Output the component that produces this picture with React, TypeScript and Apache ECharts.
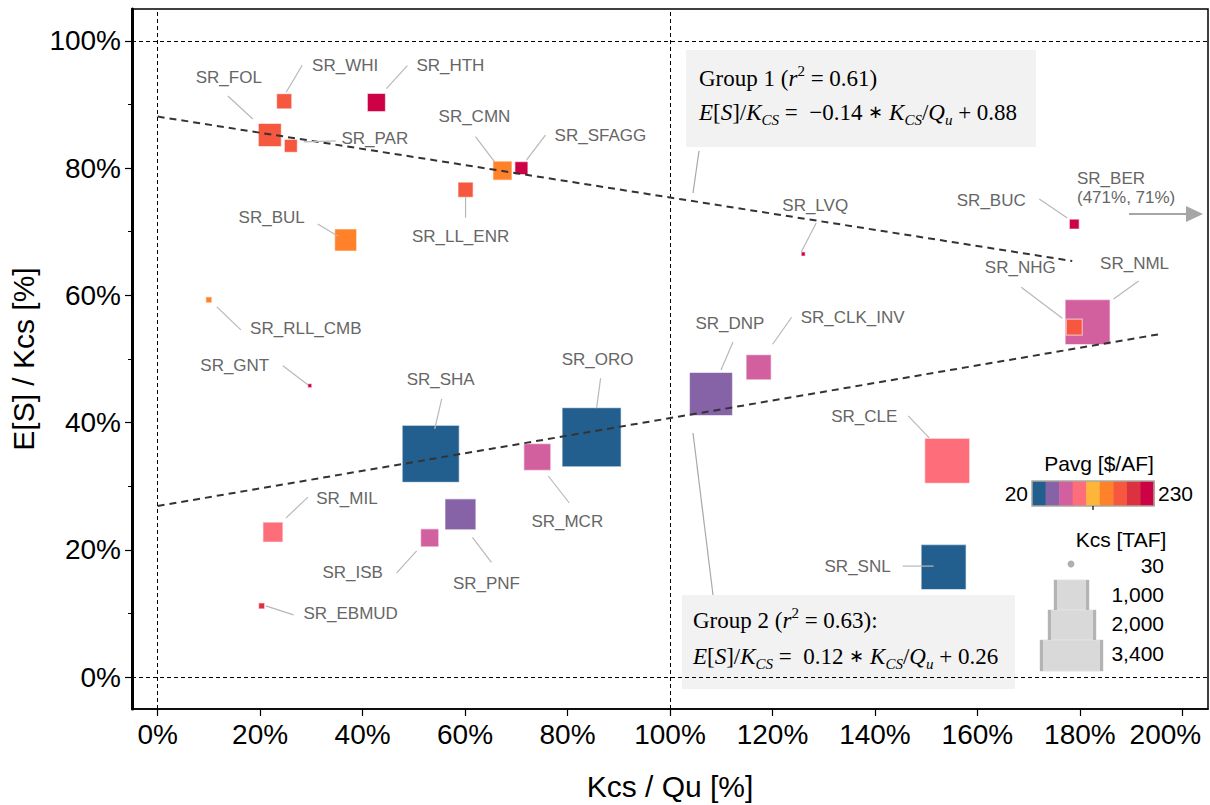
import React, { useEffect, useRef } from "react";
import * as echarts from "echarts";

// Reservoir names (draw order: large squares first so the small ones stay on top)
const reservoirs = [
  "SR_ORO", "SR_SHA", "SR_SNL", "SR_NML", "SR_CLE", "SR_DNP", "SR_PNF", "SR_MCR",
  "SR_CLK_INV", "SR_FOL", "SR_BUL", "SR_MIL", "SR_CMN", "SR_HTH", "SR_ISB", "SR_NHG",
  "SR_WHI", "SR_LL_ENR", "SR_PAR", "SR_SFAGG", "SR_BUC", "SR_RLL_CMB", "SR_EBMUD",
  "SR_GNT", "SR_LVQ",
];
// Kcs / Qu [%]
const kcsOverQu = [
  84.7, 53.3, 153.4, 181.5, 154.1, 108.0, 59.1, 74.1,
  117.3, 21.9, 36.7, 22.5, 67.3, 42.7, 53.1, 178.9,
  24.7, 60.1, 26.0, 71.0, 178.9, 10.0, 20.3,
  29.7, 126.0,
];
// E[S] / Kcs [%]
const storageRatio = [
  37.7, 35.1, 17.3, 55.8, 34.0, 44.5, 25.6, 34.6,
  48.7, 85.2, 68.7, 22.8, 79.6, 90.3, 21.9, 55.0,
  90.5, 76.6, 83.5, 80.0, 71.2, 59.3, 11.2,
  45.8, 66.5,
];
// Kcs [TAF]
const capacityTaf = [
  2880, 2690, 1670, 1670, 1670, 1530, 790, 600,
  520, 440, 400, 330, 300, 270, 270, 210,
  190, 190, 140, 140, 80, 30, 30,
  13, 13,
];
// Pavg [$/AF]
const priceAvg = [
  30, 30, 30, 80, 100, 55, 55, 80,
  80, 170, 150, 100, 150, 220, 80, 170,
  170, 170, 170, 220, 220, 150, 195,
  220, 220,
];

// Regression lines, endpoints in [Kcs/Qu %, E[S]/Kcs %]
const group1Line = [[0, 88.1], [178.5, 65.4]];
const group2Line = [[0, 26.9], [195.5, 53.9]];

const xTicks = [0, 20, 40, 60, 80, 100, 120, 140, 160, 180, 200];
const yTicks = [0, 20, 40, 60, 80, 100];
const yMinorTicks = [10, 30, 50, 70, 90];

const pavgRange = [20, 230];
const kcsLegendValues = [30, 1000, 2000, 3400];
const kcsLegendText = ["30", "1,000", "2,000", "3,400"];

const palette = [
  "#235f8e", "#8563a6", "#d25f9e", "#fe6e7a", "#ffb43a",
  "#ff822b", "#f6583f", "#dc3140", "#cd0145",
];

// Label placement: [textDx, textDy, leaderX1, leaderY1, leaderX2, leaderY2] relative to the marker centre (px)
const labelLayout: Record<string, number[]> = {
  SR_FOL: [-41, -58, -42, -39, -17, -16],
  SR_WHI: [61, -36, 18, -36, 2, -9],
  SR_HTH: [74, -37, 31, -37, 10, -14],
  SR_PAR: [84, -7, 13, -4, 45, -5],
  SR_CMN: [-28, -54, -27, -34, -8, -9],
  SR_SFAGG: [79, -33, 24, -33, 5, -8],
  SR_LL_ENR: [-5, 47, 0, 7, 0, 28],
  SR_BUL: [-74, -23, -28, -16, -8, -4],
  SR_RLL_CMB: [97, 29, 8, 7, 32, 30],
  SR_GNT: [-75, -20, -27, -20, -2, -1],
  SR_SHA: [10, -74, 11, -55, 4, -25],
  SR_MIL: [74, -34, 35, -35, 13, -14],
  SR_ISB: [-77, 35, -33, 35, -13, 13],
  SR_EBMUD: [89, 8, 4, 0, 32, 9],
  SR_PNF: [26, 69, 12, 23, 31, 48],
  SR_ORO: [6, -78, 9, -59, 5, -29],
  SR_MCR: [30, 64, 11, 19, 32, 46],
  SR_DNP: [19, -71, 22, -52, 10, -24],
  SR_CLK_INV: [94, -50, 33, -50, 14, -23],
  SR_LVQ: [12, -49, 13, -31, -2, -2],
  SR_BUC: [-83, -24, -35, -25, -7, -6],
  SR_NHG: [-54, -60, -53, -40, -12, -9],
  SR_NML: [47, -59, 51, -41, 26, -23],
  SR_CLE: [-83, -44, -39, -45, -18, -23],
  SR_SNL: [-86, -1, -41, -1, -10, -1],
};

const SANS = "'Liberation Sans', Arial, Helvetica, sans-serif";
const SERIF = "'Liberation Serif', 'Times New Roman', serif";
const sideOf = (kcs: number) => 1.1 * Math.sqrt(kcs);

const mathRich = {
  i: { fontStyle: "italic", fontFamily: SERIF, fontSize: 23 },
  sub: { fontStyle: "italic", fontFamily: SERIF, fontSize: 15, verticalAlign: "bottom", lineHeight: 15 },
  sup: { fontFamily: SERIF, fontSize: 15, verticalAlign: "top", lineHeight: 18 },
  op: { fontFamily: SERIF, fontSize: 18 },
};

function textEl(x: number, y: number, text: string, extra: any = {}) {
  const style = {
    text,
    x,
    y,
    fill: "#000",
    fontFamily: SANS,
    fontSize: 21,
    align: "center",
    textAlign: "center",
    verticalAlign: "middle",
    textVerticalAlign: "middle",
    ...extra,
  };
  return { type: "text", z: 30, style };
}

function staticGraphics() {
  const g: any[] = [];
  // Regression annotation boxes
  g.push({ type: "rect", z: 1, shape: { x: 686, y: 50, width: 350, height: 97 }, style: { fill: "#f2f2f2" } });
  g.push({ type: "rect", z: 1, shape: { x: 682, y: 595, width: 333, height: 94 }, style: { fill: "#f2f2f2" } });
  const serif = { fontFamily: SERIF, fontSize: 23, align: "left", textAlign: "left", lineHeight: 30, rich: mathRich };
  g.push(textEl(699, 78, "Group 1 ({i|r}{sup|2} = 0.61)", serif));
  g.push(textEl(699, 112, "{i|E}[{i|S}]/{i|K}{sub|CS} =  \u22120.14 {op|\u2217} {i|K}{sub|CS}/{i|Q}{sub|u} + 0.88", serif));
  g.push(textEl(693, 620, "Group 2 ({i|r}{sup|2} = 0.63):", serif));
  g.push(textEl(693, 656, "{i|E}[{i|S}]/{i|K}{sub|CS} =  0.12 {op|\u2217} {i|K}{sub|CS}/{i|Q}{sub|u} + 0.26", serif));
  g.push({ type: "line", z: 20, shape: { x1: 699, y1: 151, x2: 693, y2: 193 }, style: { stroke: "#a8a8a8", lineWidth: 1.2 } });
  g.push({ type: "line", z: 20, shape: { x1: 693, y1: 433, x2: 713, y2: 595 }, style: { stroke: "#a8a8a8", lineWidth: 1.2 } });

  // Off-scale reservoir marker
  g.push(textEl(1077, 188, "SR_BER\n(471%, 71%)", { fill: "#666", fontSize: 17, align: "left", textAlign: "left", lineHeight: 19 }));
  g.push({ type: "line", z: 20, shape: { x1: 1129, y1: 214, x2: 1188, y2: 214 }, style: { stroke: "#a6a6a6", lineWidth: 2 } });
  g.push({ type: "polygon", z: 20, shape: { points: [[1186, 206], [1203, 214], [1186, 222]] }, style: { fill: "#a6a6a6" } });

  // Pavg colour bar
  g.push(textEl(1099, 463, "Pavg [$/AF]"));
  const barX = 1032, barY = 481, barW = 122, barH = 25;
  palette.forEach((c, k) => {
    g.push({ type: "rect", z: 20, shape: { x: barX + (k * barW) / palette.length, y: barY, width: barW / palette.length + 0.5, height: barH }, style: { fill: c } });
  });
  g.push({ type: "rect", z: 21, shape: { x: barX, y: barY, width: barW, height: barH }, style: { fill: "none", stroke: "#aaa89c", lineWidth: 1.5 } });
  g.push({ type: "line", z: 21, shape: { x1: 1093, y1: barY + barH, x2: 1093, y2: barY + barH + 4 }, style: { stroke: "#000", lineWidth: 1.2 } });
  g.push(textEl(1028, 493, String(pavgRange[0]), { align: "right", textAlign: "right" }));
  g.push(textEl(1158, 493, String(pavgRange[1]), { align: "left", textAlign: "left" }));

  // Kcs size legend
  g.push(textEl(1121, 539, "Kcs [TAF]"));
  const rowsY = [565, 594, 623, 653];
  kcsLegendValues.forEach((v, k) => {
    g.push(textEl(1164, rowsY[k], kcsLegendText[k], { align: "right", textAlign: "right" }));
  });
  g.push({ type: "circle", z: 20, shape: { cx: 1071, cy: 564, r: 3.5 }, style: { fill: "#b0b0b0" } });
  const boxes = [
    [1054, 580, 35, 30],
    [1048, 610, 48, 30],
    [1040, 640, 63, 31],
  ];
  boxes.forEach(([bx, by, bw, bh]) => {
    g.push({ type: "rect", z: 20, shape: { x: bx, y: by, width: bw, height: bh }, style: { fill: "#d9d9d9", stroke: "#e2e2e2", lineWidth: 1 } });
    g.push({ type: "rect", z: 21, shape: { x: bx, y: by, width: 3, height: bh }, style: { fill: "#b4b4b4" } });
    g.push({ type: "rect", z: 21, shape: { x: bx + bw - 3, y: by, width: 3, height: bh }, style: { fill: "#b4b4b4" } });
  });
  return g;
}

export default function App() {
  const ref = useRef<HTMLDivElement>(null);

  useEffect(() => {
    document.body.style.margin = "0";
    const chart = echarts.init(ref.current!, null, { renderer: "svg" });

    const points = reservoirs.map((name, i) => [kcsOverQu[i], storageRatio[i], capacityTaf[i], priceAvg[i], name]);
    const refLine = { color: "#000", width: 1, type: [4, 3] as any };
    const lastX = xTicks[xTicks.length - 1];

    chart.setOption({
      animation: false,
      backgroundColor: "#fff",
      grid: {
        left: 132, right: 2, top: 9, bottom: 96,
        outerBoundsMode: "none",
        containLabel: false,
        show: true, borderColor: "#000", borderWidth: 1.5, backgroundColor: "transparent",
      },
      xAxis: {
        type: "value",
        min: -5,
        max: 205,
        splitLine: { show: false },
        axisLine: { show: true, onZero: false, lineStyle: { color: "#000", width: 1.5 } },
        axisTick: { show: true, customValues: xTicks, length: 7, lineStyle: { color: "#000", width: 1.2 } },
        axisLabel: {
          customValues: xTicks,
          // the right-most label is nudged left so it stays inside the canvas
          formatter: (v: number) => (v === lastX ? `{last|${v}%}` : `${v}%`),
          rich: { last: { fontSize: 28, fontFamily: SANS, color: "#000", padding: [0, 34, 0, 0] } },
          color: "#000",
          fontSize: 28,
          fontFamily: SANS,
          margin: 11,
          hideOverlap: false,
        },
        name: "Kcs / Qu [%]",
        nameLocation: "middle",
        nameGap: 62,
        nameTextStyle: { color: "#000", fontSize: 30, fontFamily: SANS },
      },
      yAxis: [
        {
          type: "value",
          min: -5,
          max: 105,
          splitLine: { show: false },
          axisLine: { show: true, onZero: false, lineStyle: { color: "#000", width: 3 } },
          axisTick: { show: true, customValues: yTicks, length: 7, lineStyle: { color: "#000", width: 1.2 } },
          axisLabel: { customValues: yTicks, formatter: "{value}%", color: "#000", fontSize: 28, fontFamily: SANS, margin: 11 },
          name: "E[S] / Kcs [%]",
          nameLocation: "middle",
          nameGap: 80,
          nameTextStyle: { color: "#000", fontSize: 30, fontFamily: SANS },
        },
        {
          type: "value",
          min: -5,
          max: 105,
          position: "left",
          splitLine: { show: false },
          axisLine: { show: false, onZero: false },
          axisTick: { show: true, customValues: yMinorTicks, length: 4, lineStyle: { color: "#000", width: 1 } },
          axisLabel: { show: false },
        },
      ],
      visualMap: {
        type: "piecewise",
        show: false,
        dimension: 3,
        seriesIndex: 0,
        min: pavgRange[0],
        max: pavgRange[1],
        splitNumber: palette.length,
        precision: 2,
        inRange: { color: palette },
      },
      series: [
        {
          type: "scatter",
          name: "reservoirs",
          symbol: "rect",
          symbolSize: (v: any[]) => sideOf(v[2]),
          data: points,
          z: 3,
          itemStyle: { opacity: 1, borderColor: "rgba(255,255,255,0.55)", borderWidth: 1.2 },
          emphasis: { disabled: true },
        },
        {
          type: "line",
          name: "Group 1",
          data: group1Line,
          symbol: "none",
          z: 6,
          lineStyle: { color: "#333", width: 2, type: [7, 5] as any },
          markLine: {
            silent: true,
            symbol: "none",
            label: { show: false },
            lineStyle: refLine,
            data: [{ xAxis: 0 }, { xAxis: 100 }, { yAxis: 0 }, { yAxis: 100 }],
          },
        },
        {
          type: "line",
          name: "Group 2",
          data: group2Line,
          symbol: "none",
          z: 6,
          lineStyle: { color: "#333", width: 2, type: [7, 5] as any },
        },
      ],
    });

    // Reservoir labels and leader lines, placed from each marker's pixel position
    const graphics = staticGraphics();
    reservoirs.forEach((name, i) => {
      const p = chart.convertToPixel({ gridIndex: 0 }, [kcsOverQu[i], storageRatio[i]]) as number[];
      const l = labelLayout[name];
      if (!p || !l) return;
      graphics.push({
        type: "line",
        z: 25,
        shape: { x1: p[0] + l[2], y1: p[1] + l[3], x2: p[0] + l[4], y2: p[1] + l[5] },
        style: { stroke: "#b8b8b8", lineWidth: 1.2 },
      });
      graphics.push(textEl(p[0] + l[0], p[1] + l[1], name, { fill: "#666", fontSize: 17 }));
    });
    chart.setOption({ graphic: { elements: graphics } });

    return () => chart.dispose();
  }, []);

  return <div ref={ref} style={{ width: 1210, height: 805 }} />;
}
